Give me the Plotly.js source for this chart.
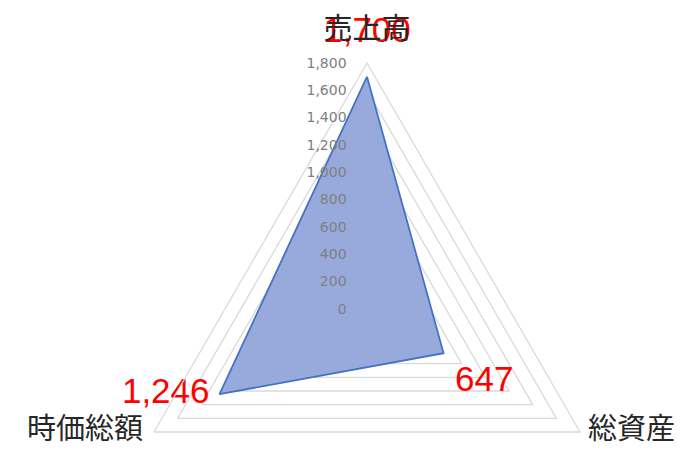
<!DOCTYPE html>
<html>
<head>
<meta charset="utf-8">
<script src="https://cdn.plot.ly/plotly-3.0.1.min.js"></script>
<style>
html,body{margin:0;padding:0;overflow:hidden;background:#fff;}
#chart{width:688px;height:560px;}
</style>
</head>
<body>
<div id="chart"></div>
<script>
const categories = ['売上高', '総資産', '時価総額'];
const values = [1700, 647, 1246];
const radialTicks = [0, 200, 400, 600, 800, 1000, 1200, 1400, 1600, 1800];
const radialMax = 1800;

const fmt = v => v.toLocaleString('en-US');
const NBSP = '\u00a0';

const W = 688, H = 560;
const cx = 367, cy = 309, R = 246;

const closedTheta = categories.concat([categories[0]]);
const closedR = values.concat([values[0]]);

const traces = [
  {
    type: 'scatterpolar',
    r: closedR,
    theta: closedTheta,
    mode: 'lines',
    fill: 'toself',
    fillcolor: '#98aadb',
    fillgradient: {type: 'vertical', colorscale: [[0, '#8a9fd9'], [1, '#a9b6df']]},
    line: {color: '#4472c4', width: 1.8},
    hoverinfo: 'skip',
    showlegend: false
  },
  {
    type: 'scatterpolar',
    r: values,
    theta: categories,
    mode: 'markers+text',
    text: values.map(fmt),
    textposition: ['top center', 'bottom right', 'middle left'],
    textfont: {family: 'Liberation Sans, Arial, sans-serif', size: 35, color: '#ff0000'},
    marker: {size: [40, 16.6, 14.4], opacity: 0, line: {width: 0}},
    hoverinfo: 'skip',
    showlegend: false,
    cliponaxis: false
  },
  {
    type: 'scatterpolar',
    r: categories.map(() => radialMax),
    theta: categories,
    mode: 'markers+text',
    text: categories,
    textposition: ['top center', 'middle right', 'middle left'],
    textfont: {family: 'Noto Sans CJK JP, sans-serif', size: 29, color: '#262626'},
    marker: {size: [25, 11.2, 16], opacity: 0, line: {width: 0}},
    hoverinfo: 'skip',
    showlegend: false,
    cliponaxis: false
  }
];

const layout = {
  width: W,
  height: H,
  margin: {l: 0, r: 0, t: 0, b: 0},
  paper_bgcolor: '#ffffff',
  plot_bgcolor: '#ffffff',
  showlegend: false,
  polar: {
    domain: {x: [(cx - R) / W, (cx + R) / W], y: [(H - cy - R) / H, (H - cy + R) / H]},
    bgcolor: 'rgba(0,0,0,0)',
    gridshape: 'linear',
    radialaxis: {
      range: [0, radialMax],
      tickvals: radialTicks,
      ticktext: radialTicks.map(v => fmt(v) + NBSP.repeat(4)),
      angle: 90,
      side: 'counterclockwise',
      tickangle: 90,
      showline: false,
      ticks: '',
      showgrid: true,
      gridcolor: '#d9d9d9',
      gridwidth: 1.3,
      tickfont: {family: 'DejaVu Sans, sans-serif', size: 14, color: '#808080'}
    },
    angularaxis: {
      type: 'category',
      categoryarray: categories,
      rotation: 90,
      direction: 'clockwise',
      showgrid: false,
      showline: true,
      showticklabels: false,
      linecolor: '#d9d9d9',
      linewidth: 1.3,
      ticks: ''
    }
  }
};

Plotly.newPlot('chart', traces, layout, {staticPlot: true, displayModeBar: false});
</script>
</body>
</html>
